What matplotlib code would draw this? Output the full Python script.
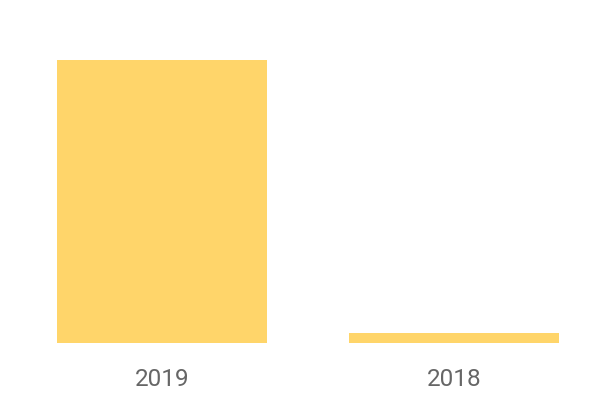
import matplotlib
matplotlib.use("Agg")
import matplotlib.pyplot as plt

# data
years = ["2019", "2018"]
values = [100, 3.4]

fig = plt.figure(figsize=(6, 4), dpi=100)
ax = fig.add_axes([0, 57 / 400, 1, 283 / 400])
ax.bar(range(len(years)), values, width=0.719, color="#FFD56A")
ax.set_xlim(-162 / 292, (600 - 162) / 292)
ax.set_ylim(0, 100)

for s in ax.spines.values():
    s.set_visible(False)
ax.set_yticks([])
ax.set_xticks(range(len(years)))
ax.set_xticklabels(years, fontsize=17.5, color="#666666", family=["Roboto", "DejaVu Sans"])
ax.tick_params(axis="x", length=0, pad=18)

fig.savefig("out.png", dpi=100)
